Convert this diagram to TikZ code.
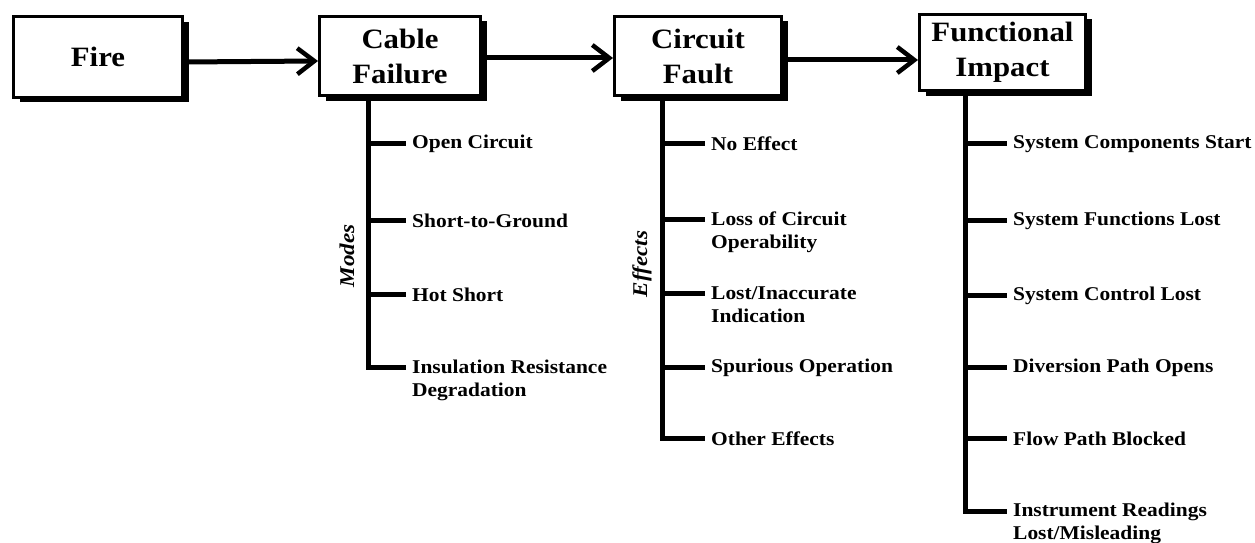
\documentclass[tikz,border=0pt]{standalone}
\usepackage{fontspec}
\setmainfont[FakeStretch=1.1]{Liberation Serif}
\usetikzlibrary{arrows.meta,shadows}
\begin{document}
\begin{tikzpicture}[x=1pt,y=-1pt,
  box/.style={draw, line width=3pt, fill=white, inner sep=0pt, align=center,
    font=\fontsize{28}{35}\selectfont\bfseries,
    general shadow={shadow xshift=6pt, shadow yshift=-5pt, fill=black}},
  flow/.style={line width=5pt, -{Straight Barb[length=17pt,width=26pt,line width=4.5pt]}},
  trunk/.style={line width=5pt},
  branch/.style={line width=5pt, shorten >=6pt},
  lbl/.style={inner sep=0pt, align=left, font=\fontsize{19.5}{23}\selectfont\bfseries},
  side/.style={inner sep=0pt, rotate=90, font=\fontsize{21}{22}\selectfont\bfseries\itshape}]
\useasboundingbox (0,0) rectangle (1255,543);

% main boxes
\node[box, minimum width=169pt, minimum height=80pt] (fire) at (98,57) {Fire};
\node[box, minimum width=161pt, minimum height=79pt] (cable) at (400,56) {Cable\\Failure};
\node[box, minimum width=167pt, minimum height=79pt] (circuit) at (698,56) {Circuit\\Fault};
\node[box, minimum width=166pt, minimum height=76pt] (func) at (1002.5,52.5) {Functional\\Impact};

% flow arrows
\draw[flow] ([yshift=-5pt]fire.east) -- ([yshift=-5pt]cable.west);
\draw[flow] ([yshift=-2pt]cable.east) -- ([yshift=-2pt]circuit.west);
\draw[flow] ([yshift=-4pt]circuit.east) -- ([yshift=-7.5pt]func.west);

% Cable failure modes
\coordinate (c1) at (368,143);
\coordinate (c2) at (368,220);
\coordinate (c3) at (368,294);
\coordinate (c4) at (368,367);
\node[lbl, anchor=west] (cl1) at (412,144) {Open Circuit};
\node[lbl, anchor=west] (cl2) at (412,221) {Short-to-Ground};
\node[lbl, anchor=west] (cl3) at (412,295) {Hot Short};
\node[lbl, anchor=north west] (cl4) at (412,360) {Insulation Resistance\\Degradation};
\draw[trunk] (cable.south -| c1) -- ([yshift=-2.5pt]c4);
\foreach \i in {1,2,3,4} \draw[branch] (c\i) -- (c\i -| cl\i.west);
\node[side] (modes) at (347,256) {Modes};

% Circuit fault effects
\coordinate (e1) at (662,143);
\coordinate (e2) at (662,219);
\coordinate (e3) at (662,293);
\coordinate (e4) at (662,367);
\coordinate (e5) at (662,438);
\node[lbl, anchor=west] (el1) at (711,144) {No Effect};
\node[lbl, anchor=north west] (el2) at (711,212) {Loss of Circuit\\Operability};
\node[lbl, anchor=north west] (el3) at (711,286) {Lost/Inaccurate\\Indication};
\node[lbl, anchor=west] (el4) at (711,368) {Spurious Operation};
\node[lbl, anchor=west] (el5) at (711,439) {Other Effects};
\draw[trunk] (circuit.south -| e1) -- ([yshift=-2.5pt]e5);
\foreach \i in {1,...,5} \draw[branch] (e\i) -- (e\i -| el\i.west);
\node[side] (effects) at (642,264) {Effects};

% Functional impacts
\coordinate (f1) at (965,143);
\coordinate (f2) at (965,220);
\coordinate (f3) at (965,295);
\coordinate (f4) at (965,367);
\coordinate (f5) at (965,438);
\coordinate (f6) at (965,511);
\node[lbl, anchor=west] (fl1) at (1013,144) {System Components Start};
\node[lbl, anchor=west] (fl2) at (1013,221) {System Functions Lost};
\node[lbl, anchor=west] (fl3) at (1013,296) {System Control Lost};
\node[lbl, anchor=west] (fl4) at (1013,368) {Diversion Path Opens};
\node[lbl, anchor=west] (fl5) at (1013,439) {Flow Path Blocked};
\node[lbl, anchor=north west] (fl6) at (1013,503) {Instrument Readings\\Lost/Misleading};
\draw[trunk] (func.south -| f1) -- ([yshift=-2.5pt]f6);
\foreach \i in {1,...,6} \draw[branch] (f\i) -- (f\i -| fl\i.west);
\end{tikzpicture}
\end{document}
